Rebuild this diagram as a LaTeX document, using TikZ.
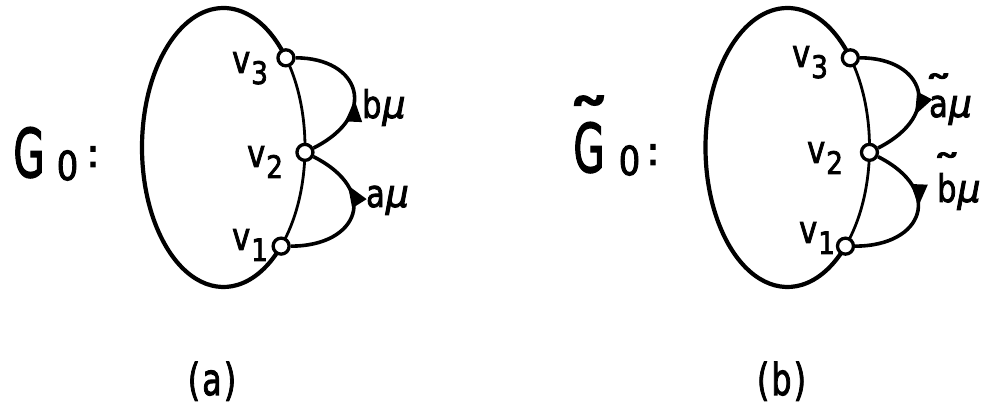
\documentclass[tikz,border=0pt]{standalone}
\usepackage{fontspec}
\setmainfont{DejaVu Sans}[FakeBold=2.5]
\usetikzlibrary{arrows.meta,decorations.markings,calc}
\newcommand{\vsub}[1]{\scalebox{0.8}[1]{v}\kern1pt\raisebox{-11pt}{\fontsize{31}{31}\selectfont\scalebox{0.85}[1]{#1}}}
\newcommand{\mymu}{\kern1pt{\itshape\scalebox{0.95}[1]{μ}}}
\newcommand{\tld}[3]{\leavevmode\ooalign{#3\cr\hidewidth\raisebox{#1}{\scalebox{#2}[1]{\char"02DC}}\hidewidth\cr}}
\begin{document}
\begin{tikzpicture}[x=1pt,y=1pt,
  vtx/.style={circle,draw,fill=white,line width=3.3pt,minimum size=16pt,inner sep=0pt},
  rim/.style={line width=4.2pt},
  chord/.style={line width=2.8pt},
  loopedge/.style={line width=3.6pt},
  arrowat/.style={postaction={decorate},decoration={markings,mark=at position #1 with {\arrow{Triangle[length=22pt,width=16pt]}}}},
  lbl/.style={inner sep=0pt,anchor=base west,font=\fontsize{38}{38}\selectfont},
  big/.style={inner sep=0pt,anchor=base,font=\fontsize{67}{67}\selectfont},
  mid/.style={inner sep=0pt,anchor=base,font=\fontsize{40}{40}\selectfont},
  captxt/.style={inner sep=0pt,anchor=base,font=\fontsize{44}{44}\selectfont},
]
\useasboundingbox (0,0) rectangle (986,404);

% ---------- (a) ----------
\coordinate (ca) at (223.5,256.5);
\coordinate (pa3) at ($(ca)+(40:81.5pt and 139.5pt)$);
\coordinate (pa2) at ($(ca)+(-2:81.5pt and 139.5pt)$);
\coordinate (pa1) at ($(ca)+(-45:81.5pt and 139.5pt)$);
\draw[rim] (pa3) arc[start angle=40,end angle=315,x radius=81.5pt,y radius=139.5pt];
\draw[chord] (pa1) arc[start angle=-45,end angle=40,x radius=81.5pt,y radius=139.5pt];
\node[vtx] (a3) at (pa3) {};
\node[vtx] (a2) at (pa2) {};
\node[vtx] (a1) at (pa1) {};
\draw[loopedge,arrowat=0.45] (a2) .. controls +(75,38) and +(74,0) .. (a3);
\draw[loopedge,arrowat=0.7] (a1) .. controls +(78,0) and +(75,-38) .. (a2);
\node[lbl] (ta3) at (232,331) {\vsub{3}};
\node[lbl] (ta2) at (247,237) {\vsub{2}};
\node[lbl] (ta1) at (232,154) {\vsub{1}};
\node[lbl] (tb) at (362,286) {\scalebox{0.8}[1]{b}\mymu};
\node[lbl] (taa) at (366,197) {\scalebox{0.8}[1]{a}\mymu};
\node[big] (Ga) at (29,227) {\scalebox{0.6}[1]{G}};
\node[mid] (Za) at (67.5,224) {\scalebox{0.85}[1]{0}};
\node[mid] (Ca) at (93,237) {:};
\node[captxt] (capa) at (212,9) {\scalebox{0.72}[1]{(\kern3pt a\kern3pt)}};

% ---------- (b) ----------
\coordinate (cb) at (787.5,256.5);
\coordinate (pb3) at ($(cb)+(40:82pt and 139.5pt)$);
\coordinate (pb2) at ($(cb)+(-2:82pt and 139.5pt)$);
\coordinate (pb1) at ($(cb)+(-45:82pt and 139.5pt)$);
\draw[rim] (pb3) arc[start angle=40,end angle=315,x radius=82pt,y radius=139.5pt];
\draw[chord] (pb1) arc[start angle=-45,end angle=40,x radius=82pt,y radius=139.5pt];
\node[vtx] (b3) at (pb3) {};
\node[vtx] (b2) at (pb2) {};
\node[vtx] (b1) at (pb1) {};
\draw[loopedge,arrowat=0.66] (b3) .. controls +(74,0) and +(75,38) .. (b2);
\draw[loopedge,arrowat=0.45] (b2) .. controls +(75,-38) and +(78,0) .. (b1);
\node[lbl] (tb3) at (792,337) {\vsub{3}};
\node[lbl] (tb2) at (807,241) {\vsub{2}};
\node[lbl] (tb1) at (799,161) {\vsub{1}};
\node[lbl] (tat) at (929,287) {\tld{14pt}{1.5}{\scalebox{0.8}[1]{a}}\mymu};
\node[lbl] (tbt) at (937,202) {\tld{20pt}{1.5}{\scalebox{0.8}[1]{b}}\mymu};
\node[big] (Gb) at (589,232) {\tld{24pt}{1.3}{\scalebox{0.6}[1]{G}}};
\node[mid] (Zb) at (629.5,229) {\scalebox{0.85}[1]{0}};
\node[mid] (Cb) at (653,239) {:};
\node[captxt] (capb) at (781.5,9) {\scalebox{0.72}[1]{(\kern3pt b\kern3pt)}};
\end{tikzpicture}
\end{document}
